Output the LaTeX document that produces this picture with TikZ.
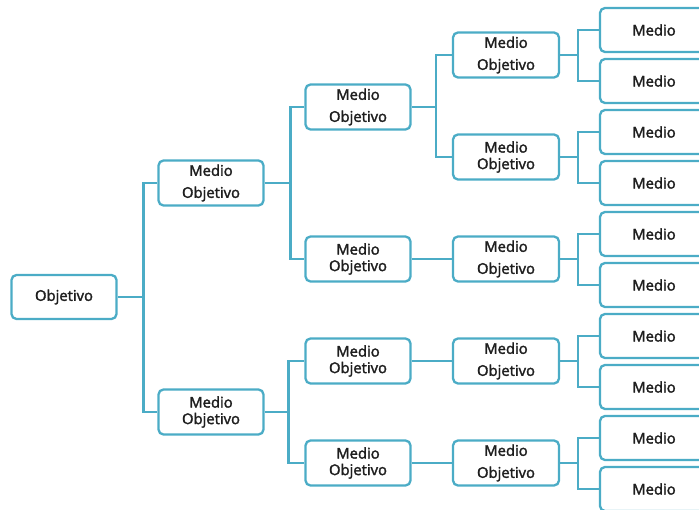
\documentclass[tikz,border=0pt]{standalone}
\usepackage{fontspec}
\setmainfont{Open Sans}
\newfontfamily\semib[FakeBold=2]{Open Sans}
\usetikzlibrary{calc}
\definecolor{aqua}{HTML}{4BACC6}
\definecolor{txt}{HTML}{1E1E1E}
\tikzset{
  box/.style={draw=aqua, line width=2.3pt, rounded corners=5pt, fill=white,
    minimum width=105pt, minimum height=45pt, align=center, text=txt, inner sep=0pt},
  wide/.style={font=\semib\fontsize{14.8}{22}\selectfont},
  tight/.style={font=\semib\fontsize{14.8}{16.5}\selectfont},
  leaf/.style={box, minimum width=108pt, minimum height=44pt, font=\semib\fontsize{14.8}{16}\selectfont},
  conn/.style={draw=aqua, line width=2.3pt},
}
\begin{document}
\begin{tikzpicture}[x=1pt,y=-1pt]
\useasboundingbox (0,0) rectangle (699,510);
\begin{scope}
\clip (0,0) rectangle (699,510);
% root
\node[box, tight, minimum height=44pt] (r) at (64,297) {Objetivo};
% level 1
\node[box, wide] (a) at (211,183) {Medio\\Objetivo};
\node[box, tight] (b) at (211,412) {Medio\\Objetivo};
% level 2
\node[box, wide] (a1) at (358,107) {Medio\\Objetivo};
\node[box, tight] (a2) at (358,259) {Medio\\Objetivo};
\node[box, tight] (b1) at (358,361) {Medio\\Objetivo};
\node[box, tight] (b2) at (358,463) {Medio\\Objetivo};
% level 3
\node[box, wide, minimum width=106pt] (c1) at (506,55) {Medio\\Objetivo};
\node[box, tight, minimum width=106pt] (c2) at (506,157) {Medio\\Objetivo};
\node[box, wide, minimum width=106pt] (c3) at (506,259) {Medio\\Objetivo};
\node[box, wide, minimum width=106pt] (c4) at (506,361) {Medio\\Objetivo};
\node[box, wide, minimum width=106pt] (c5) at (506,463) {Medio\\Objetivo};
% leaves
\node[leaf] (l1) at (654,30) {Medio};
\node[leaf] (l2) at (654,81) {Medio};
\node[leaf] (l3) at (654,132) {Medio};
\node[leaf] (l4) at (654,183) {Medio};
\node[leaf] (l5) at (654,234) {Medio};
\node[leaf] (l6) at (654,285) {Medio};
\node[leaf] (l7) at (654,336) {Medio};
\node[leaf] (l8) at (654,387) {Medio};
\node[leaf] (l9) at (654,438) {Medio};
\node[leaf] (l10) at (654,489) {Medio};
% connectors
\coordinate (s0) at ([xshift=-14pt]a.west);
\draw[conn] (a.west) -- (s0) |- (b.west);
\draw[conn] (r.east) -- (r.east -| s0);
\coordinate (sa) at ([xshift=-14pt]a1.west);
\draw[conn] (a1.west) -- (sa) |- (a2.west);
\draw[conn] (a.east) -- (a.east -| sa);
\coordinate (sb) at ([xshift=-16pt]b1.west);
\draw[conn] (b1.west) -- (sb) |- (b2.west);
\draw[conn] (b.east) -- (b.east -| sb);
\coordinate (sc) at ([xshift=-16pt]c1.west);
\draw[conn] (c1.west) -- (sc) |- (c2.west);
\draw[conn] (a1.east) -- (a1.east -| sc);
\draw[conn] (a2.east) -- (c3.west);
\draw[conn] (b1.east) -- (c4.west);
\draw[conn] (b2.east) -- (c5.west);
\foreach \p/\u/\v in {c1/l1/l2, c2/l3/l4, c3/l5/l6, c4/l7/l8, c5/l9/l10}{
  \coordinate (s\p) at ([xshift=-21pt]\u.west);
  \draw[conn] (\u.west) -- (s\p) |- (\v.west);
  \draw[conn] (\p.east) -- (\p.east -| s\p);
}
\end{scope}
\end{tikzpicture}
\end{document}
